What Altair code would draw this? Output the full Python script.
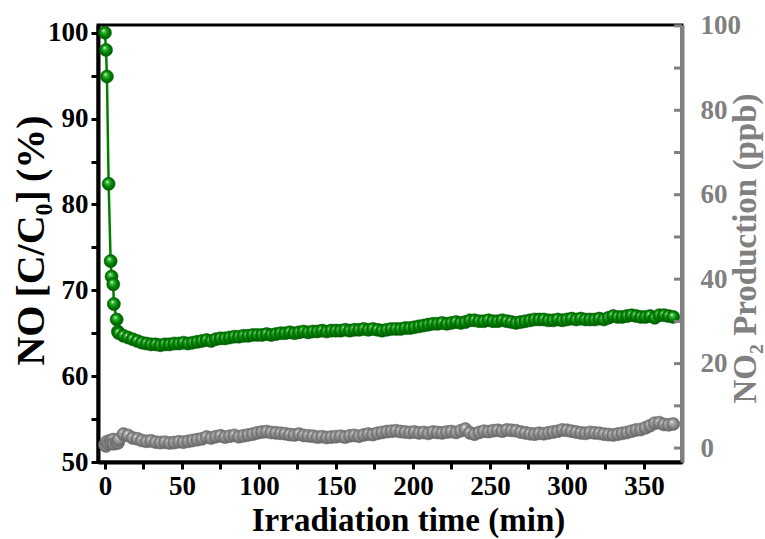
import altair as alt
import pandas as pd

# ---------------- data ----------------
t_start = [0, 0.7, 1.3, 2.4, 3.7, 4.3, 5.4, 5.8, 7.6, 8.4]
t_grid = [9, 12, 15, 18, 21, 24, 27, 30, 33, 36, 39, 42, 45, 48, 51, 54, 57, 60,
          63, 66, 69, 72, 75, 78, 81, 84, 87, 90, 93, 96, 99, 102, 105, 108, 111,
          114, 117, 120, 123, 126, 129, 132, 135, 138, 141, 144, 147, 150, 153,
          156, 159, 162, 165, 168, 171, 174, 177, 180, 183, 186, 189, 192, 195,
          198, 201, 204, 207, 210, 213, 216, 219, 222, 225, 228, 231, 234, 237,
          240, 243, 246, 249, 252, 255, 258, 261, 264, 267, 270, 273, 276, 279,
          282, 285, 288, 291, 294, 297, 300, 303, 306, 309, 312, 315, 318, 321,
          324, 327, 330, 333, 336, 339, 342, 345, 348, 351, 354, 357, 360, 363,
          366, 369]

no_start = [100, 98.0, 94.9, 82.4, 73.4, 71.6, 70.7, 68.4, 66.6, 65.2]
no_grid = [65.0, 64.7, 64.5, 64.3, 64.1, 63.9, 63.8, 63.7, 63.7, 63.6, 63.7, 63.7,
           63.8, 63.8, 63.9, 63.8, 63.9, 64.0, 64.1, 64.2, 64.1, 64.3, 64.4, 64.4,
           64.5, 64.6, 64.6, 64.7, 64.7, 64.8, 64.8, 64.8, 64.9, 64.8, 64.9, 65.0,
           65.0, 65.1, 65.0, 65.1, 65.2, 65.1, 65.2, 65.2, 65.3, 65.2, 65.3, 65.3,
           65.3, 65.4, 65.3, 65.4, 65.4, 65.5, 65.4, 65.5, 65.4, 65.3, 65.4, 65.5,
           65.5, 65.5, 65.6, 65.6, 65.7, 65.8, 65.9, 66.0, 66.1, 66.1, 66.2, 66.1,
           66.2, 66.3, 66.2, 66.3, 66.5, 66.5, 66.4, 66.4, 66.5, 66.4, 66.4, 66.5,
           66.4, 66.3, 66.2, 66.3, 66.4, 66.5, 66.6, 66.6, 66.6, 66.5, 66.5, 66.6,
           66.5, 66.6, 66.7, 66.6, 66.7, 66.6, 66.6, 66.6, 66.7, 66.6, 66.8, 67.0,
           66.9, 66.9, 67.0, 67.1, 67.0, 66.9, 66.9, 67.0, 66.8, 67.1, 67.1, 67.0,
           66.9]

no2_start = [0.8, 0.5, 1.5, 1.0, 1.8, 1.2, 2.0, 1.0, 1.4, 1.2]
no2_grid = [2.0, 3.3, 3.0, 2.4, 2.2, 1.8, 1.6, 1.7, 1.4, 1.3, 1.4, 1.2, 1.3, 1.5,
            1.4, 1.6, 1.8, 2.0, 2.2, 2.6, 2.4, 2.7, 2.9, 2.6, 2.8, 3.0, 2.7, 2.9,
            3.1, 3.3, 3.6, 3.8, 3.9, 3.7, 3.6, 3.5, 3.4, 3.2, 3.1, 3.3, 3.0, 2.9,
            2.8, 2.6, 2.7, 2.5, 2.6, 2.7, 2.8, 2.6, 2.9, 3.0, 2.8, 3.1, 3.3, 3.2,
            3.5, 3.7, 3.9, 4.0, 4.1, 3.9, 3.8, 3.7, 3.8, 3.6, 3.7, 3.5, 3.8, 3.7,
            3.6, 3.8, 3.9, 3.7, 4.1, 4.5, 3.6, 3.3, 3.7, 4.0, 3.9, 4.1, 4.2, 4.0,
            4.3, 4.2, 4.1, 3.8, 3.6, 3.4, 3.3, 3.5, 3.4, 3.6, 3.8, 4.0, 4.3, 4.2,
            4.0, 3.8, 3.6, 3.5, 3.7, 3.6, 3.5, 3.3, 3.2, 3.1, 3.3, 3.5, 3.7, 4.0,
            4.3, 4.4, 4.8, 5.3, 5.9, 6.0, 5.6, 5.5, 5.7]

x_tick_values = [0, 25, 50, 75, 100, 125, 150, 175, 200, 225, 250, 275, 300, 325, 350]
left_tick_values = [50, 55, 60, 65, 70, 75, 80, 85, 90, 95, 100]
right_tick_values = [0, 10, 20, 30, 40, 50, 60, 70, 80, 90, 100]
right_label_values = [0, 20, 40, 60, 80, 100]

df = pd.DataFrame({
    "time": t_start + t_grid,
    "no": no_start + no_grid,
    "no2": no2_start + no2_grid,
})
ticks_df = pd.DataFrame({"v": right_tick_values})

# ---------------- styling ----------------
FONT = "Liberation Serif"
GREEN = "#008000"
GRAY = "#808080"
W, H = 584, 437

x_scale = alt.Scale(domain=[-4.5, 374.7], nice=False, zero=False)
yl_scale = alt.Scale(domain=[50, 100.9], nice=False, zero=False)
yr_scale = alt.Scale(domain=[-3.3, 100.2], nice=False, zero=False)

x_axis = alt.Axis(
    values=x_tick_values, format="d",
    labelExpr="datum.value % 50 == 0 ? datum.label : ''",
    title="Irradiation time (min)", titleX=310, titleY=68,
    titleBaseline="alphabetic", titleFontSize=33,
    labelPadding=4,
)
left_axis = alt.Axis(
    values=left_tick_values, format="d", orient="left",
    labelExpr="datum.value % 10 == 0 ? datum.label : ''",
    title="NO\u2009[C/C\u2080]\u2009(%)", titleAngle=270, titleX=-67, titleY=215,
    titleBaseline="middle", titleFontSize=40, labelPadding=3,
)
right_axis = alt.Axis(
    values=right_label_values, format="d", orient="right",
    tickSize=0, labelPadding=18,
    domainColor=GRAY, labelColor=GRAY, titleColor=GRAY,
    title="NO\u2082 Production (ppb)", titleAngle=270, titleX=63, titleY=223,
    titleBaseline="middle", titleFontSize=33,
)


def ball(light, mid, dark):
    return alt.RadialGradient(
        gradient="radial",
        stops=[
            alt.GradientStop(color="#ffffff", offset=0),
            alt.GradientStop(color=light, offset=0.22),
            alt.GradientStop(color=mid, offset=0.6),
            alt.GradientStop(color=dark, offset=1),
        ],
        x1=0.38, y1=0.32, r1=0, x2=0.5, y2=0.5, r2=0.55,
    )


base = alt.Chart(df).encode(x=alt.X("time:Q", scale=x_scale, axis=x_axis))

g_line = base.mark_line(color=GREEN, strokeWidth=2.5).encode(
    y=alt.Y("no:Q", scale=yl_scale, axis=left_axis))
g_pts = base.mark_circle(size=170, opacity=1, fill=ball("#3fbf3f", GREEN, "#005200"),
                         stroke="#006000", strokeWidth=0.6).encode(
    y=alt.Y("no:Q", scale=yl_scale, axis=left_axis))
green = alt.layer(g_line, g_pts)

k_line = base.mark_line(color=GRAY, strokeWidth=2).encode(
    y=alt.Y("no2:Q", scale=yr_scale, axis=right_axis))
k_pts = base.mark_circle(size=170, opacity=1, fill=ball("#b0b0b0", "#888888", "#5a5a5a"),
                         stroke="#707070", strokeWidth=0.6).encode(
    y=alt.Y("no2:Q", scale=yr_scale, axis=right_axis))
gray = alt.layer(k_line, k_pts)

right_ticks = alt.Chart(ticks_df).mark_rule(color=GRAY, strokeWidth=3).encode(
    y=alt.Y("v:Q", scale=yr_scale, axis=None),
    x=alt.value(W - 8), x2=alt.value(W),
)

chart = alt.layer(green, gray, right_ticks).resolve_scale(y="independent").properties(
    width=W, height=H,
    autosize=alt.AutoSizeParams(type="none"),
    padding={"left": 98, "top": 25, "right": 83, "bottom": 77},
).configure_view(
    stroke="black", strokeWidth=3,
).configure_axis(
    labelFont=FONT, labelFontWeight="bold", labelFontSize=27, labelColor="black",
    titleFont=FONT, titleFontWeight="bold", titleColor="black",
    domainColor="black", domainWidth=4, tickColor="black", tickWidth=3, tickSize=7,
    grid=False, labelOverlap=False,
)

chart.save("out.html", embed_options={"renderer": "svg", "actions": False})
